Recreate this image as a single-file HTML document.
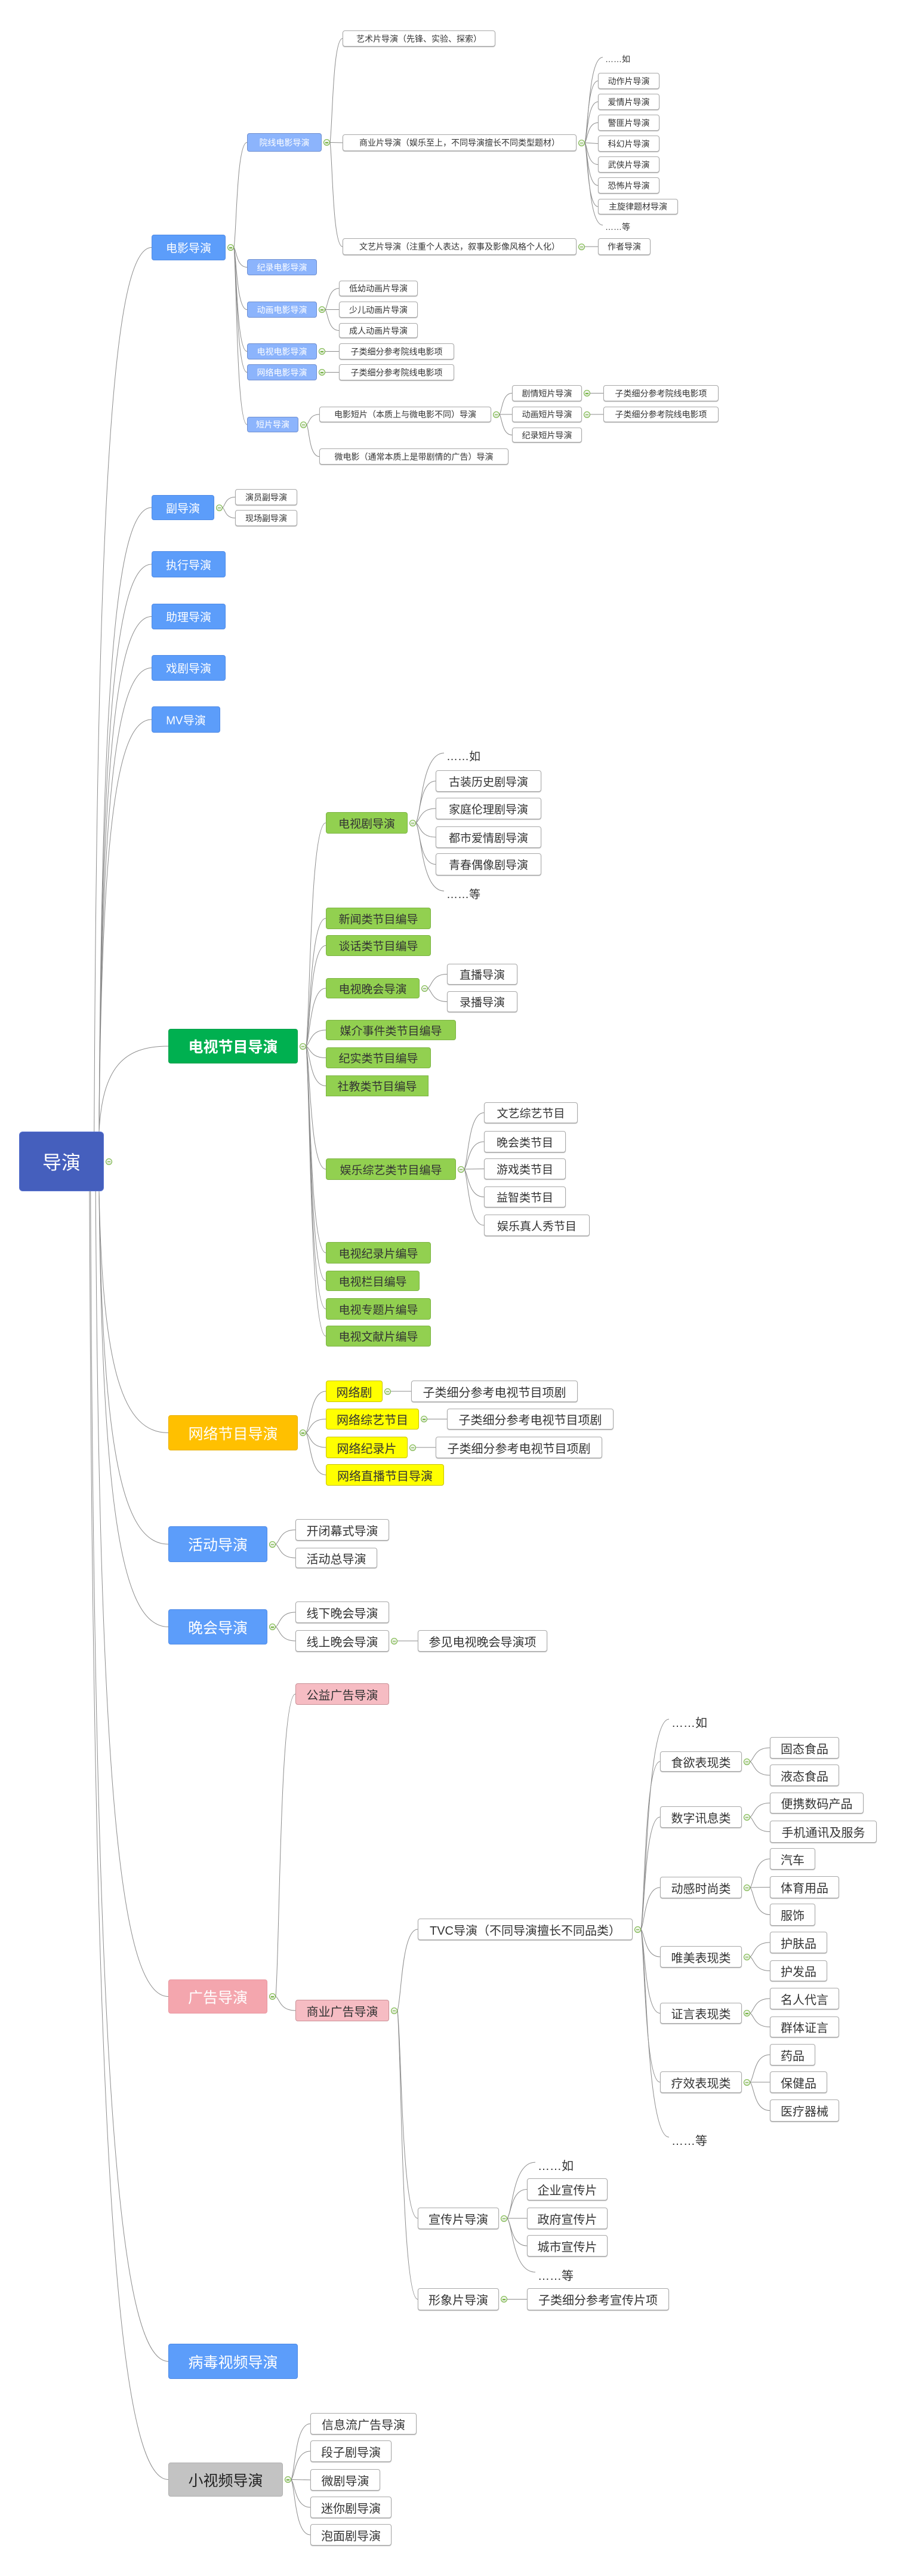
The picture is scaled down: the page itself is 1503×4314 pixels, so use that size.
<!DOCTYPE html>
<html><head><meta charset="utf-8">
<style>
html,body{margin:0;padding:0;background:#fff;}
body{width:1503px;height:4314px;position:relative;overflow:hidden;font-family:"Liberation Sans","Noto Sans CJK SC",sans-serif;}
#lines{position:absolute;left:0;top:0;}
.n{position:absolute;box-sizing:border-box;display:flex;align-items:center;justify-content:center;white-space:nowrap;border-radius:4px;color:#333;}
.w{background:#fff;border:1px solid #a8a8a8;box-shadow:0 1px 1px #bbb;}
.b1{background:#5c9dfa;border:1px solid #4e8ae6;color:#fff;}
.b2{background:#8cb4fc;border:1px solid #6f8fd0;color:#fff;}
.rt{background:#455fbd;border:1px solid #5872d0;color:#fff;border-radius:6px;font-size:32px;}
.gr{background:#00b050;border:1px solid #08a04a;color:#fff;font-weight:bold;}
.gl{background:#92d050;border:1px solid #7cb443;}
.yl{background:#ffff00;border:1px solid #c9c300;}
.or{background:#ffc000;border:1px solid #e8b000;color:#fff;}
.pk{background:#f4a6ae;border:1px solid #e8959e;color:#fff;}
.pl{background:#f6bcc3;border:1px solid #c99096;}
.gy{background:#c3c3c3;border:1px solid #b0b0b0;color:#222;}
.tx{justify-content:flex-start;}
.s14{font-size:14px}.s19{font-size:19px}.s20{font-size:20px}.s22{font-size:22px}.s25{font-size:25px}
.tg{position:absolute;width:11px;height:11px;border-radius:50%;border:1px solid #74b33f;background:linear-gradient(#f4f8f0,#d9e6d0);box-sizing:border-box;}
.tg:after{content:"";position:absolute;left:2px;top:4px;width:5px;height:1.5px;background:#74b33f;}
</style></head><body>
<svg id="lines" width="1503" height="4314"></svg>

<div class="n rt" id="r" style="left:32px;top:1895px;width:142px;height:100px">导演</div>

<div class="n b1 s19" id="a" style="left:254px;top:393px;width:124px;height:43px">电影导演</div>
<div class="n b1 s19" id="b" style="left:254px;top:829px;width:105px;height:42px">副导演</div>
<div class="n b1 s19" id="c" style="left:254px;top:923px;width:124px;height:44px">执行导演</div>
<div class="n b1 s19" id="d" style="left:254px;top:1011px;width:124px;height:43px">助理导演</div>
<div class="n b1 s19" id="e" style="left:254px;top:1097px;width:124px;height:43px">戏剧导演</div>
<div class="n b1 s19" id="f" style="left:254px;top:1183px;width:115px;height:44px">MV导演</div>
<div class="n gr s25" id="g" style="left:282px;top:1723px;width:217px;height:58px">电视节目导演</div>
<div class="n or s25" id="h" style="left:282px;top:2370px;width:217px;height:59px">网络节目导演</div>
<div class="n b1 s25" id="i" style="left:282px;top:2556px;width:166px;height:60px">活动导演</div>
<div class="n b1 s25" id="j" style="left:282px;top:2695px;width:166px;height:59px">晚会导演</div>
<div class="n pk s25" id="k" style="left:282px;top:3315px;width:166px;height:57px">广告导演</div>
<div class="n b1 s25" id="l" style="left:282px;top:3925px;width:217px;height:59px">病毒视频导演</div>
<div class="n gy s25" id="m" style="left:282px;top:4124px;width:192px;height:57px">小视频导演</div>

<!-- 电影 -->
<div class="n b2 s14" id="a1" style="left:414px;top:223px;width:125px;height:31px">院线电影导演</div>
<div class="n b2 s14" id="a2" style="left:414px;top:434px;width:117px;height:27px">纪录电影导演</div>
<div class="n b2 s14" id="a3" style="left:414px;top:505px;width:117px;height:27px">动画电影导演</div>
<div class="n b2 s14" id="a4" style="left:414px;top:575px;width:117px;height:27px">电视电影导演</div>
<div class="n b2 s14" id="a5" style="left:414px;top:610px;width:117px;height:27px">网络电影导演</div>
<div class="n b2 s14" id="a6" style="left:414px;top:698px;width:86px;height:26px">短片导演</div>

<div class="n w s14" id="a11" style="left:574px;top:51px;width:256px;height:27px">艺术片导演（先锋、实验、探索）</div>
<div class="n w s14" id="a12" style="left:574px;top:225px;width:392px;height:28px">商业片导演（娱乐至上，不同导演擅长不同类型题材）</div>
<div class="n w s14" id="a13" style="left:574px;top:399px;width:392px;height:28px">文艺片导演（注重个人表达，叙事及影像风格个人化）</div>
<div class="n tx s14" id="a120" style="left:1014px;top:89px;width:60px;height:20px">……如</div>
<div class="n w s14" id="a121" style="left:1002px;top:122px;width:103px;height:27px">动作片导演</div>
<div class="n w s14" id="a122" style="left:1002px;top:157px;width:103px;height:27px">爱情片导演</div>
<div class="n w s14" id="a123" style="left:1002px;top:192px;width:103px;height:27px">警匪片导演</div>
<div class="n w s14" id="a124" style="left:1002px;top:227px;width:103px;height:27px">科幻片导演</div>
<div class="n w s14" id="a125" style="left:1002px;top:262px;width:103px;height:27px">武侠片导演</div>
<div class="n w s14" id="a126" style="left:1002px;top:297px;width:103px;height:27px">恐怖片导演</div>
<div class="n w s14" id="a127" style="left:1002px;top:333px;width:134px;height:26px">主旋律题材导演</div>
<div class="n tx s14" id="a128" style="left:1014px;top:370px;width:60px;height:20px">……等</div>
<div class="n w s14" id="a131" style="left:1002px;top:399px;width:88px;height:28px">作者导演</div>

<div class="n w s14" id="a31" style="left:568px;top:470px;width:132px;height:26px">低幼动画片导演</div>
<div class="n w s14" id="a32" style="left:568px;top:505px;width:132px;height:27px">少儿动画片导演</div>
<div class="n w s14" id="a33" style="left:568px;top:541px;width:132px;height:25px">成人动画片导演</div>
<div class="n w s14" id="a41" style="left:568px;top:575px;width:193px;height:27px">子类细分参考院线电影项</div>
<div class="n w s14" id="a51" style="left:568px;top:610px;width:193px;height:27px">子类细分参考院线电影项</div>
<div class="n w s14" id="a61" style="left:535px;top:681px;width:288px;height:26px">电影短片（本质上与微电影不同）导演</div>
<div class="n w s14" id="a62" style="left:535px;top:751px;width:317px;height:27px">微电影（通常本质上是带剧情的广告）导演</div>
<div class="n w s14" id="a611" style="left:858px;top:645px;width:117px;height:27px">剧情短片导演</div>
<div class="n w s14" id="a612" style="left:858px;top:681px;width:117px;height:26px">动画短片导演</div>
<div class="n w s14" id="a613" style="left:858px;top:716px;width:117px;height:25px">纪录短片导演</div>
<div class="n w s14" id="a6111" style="left:1011px;top:645px;width:193px;height:27px">子类细分参考院线电影项</div>
<div class="n w s14" id="a6121" style="left:1011px;top:681px;width:193px;height:26px">子类细分参考院线电影项</div>

<div class="n w s14" id="b1" style="left:394px;top:819px;width:104px;height:27px">演员副导演</div>
<div class="n w s14" id="b2" style="left:394px;top:854px;width:104px;height:27px">现场副导演</div>

<!-- 电视 -->
<div class="n gl s19" id="g1" style="left:546px;top:1360px;width:137px;height:36px">电视剧导演</div>
<div class="n tx s19" id="g10" style="left:748px;top:1252px;width:80px;height:26px">……如</div>
<div class="n w s19" id="g11" style="left:730px;top:1290px;width:177px;height:36px">古装历史剧导演</div>
<div class="n w s19" id="g12" style="left:730px;top:1336px;width:177px;height:36px">家庭伦理剧导演</div>
<div class="n w s19" id="g13" style="left:730px;top:1384px;width:177px;height:36px">都市爱情剧导演</div>
<div class="n w s19" id="g14" style="left:730px;top:1429px;width:177px;height:37px">青春偶像剧导演</div>
<div class="n tx s19" id="g15" style="left:748px;top:1483px;width:80px;height:26px">……等</div>
<div class="n gl s19" id="g2" style="left:546px;top:1520px;width:176px;height:36px">新闻类节目编导</div>
<div class="n gl s19" id="g3" style="left:546px;top:1566px;width:176px;height:35px">谈话类节目编导</div>
<div class="n gl s19" id="g4" style="left:546px;top:1638px;width:157px;height:34px">电视晚会导演</div>
<div class="n w s19" id="g41" style="left:749px;top:1614px;width:118px;height:35px">直播导演</div>
<div class="n w s19" id="g42" style="left:749px;top:1660px;width:118px;height:35px">录播导演</div>
<div class="n gl s19" id="g5" style="left:546px;top:1708px;width:218px;height:34px">媒介事件类节目编导</div>
<div class="n gl s19" id="g6" style="left:546px;top:1754px;width:176px;height:35px">纪实类节目编导</div>
<div class="n gl s19" id="g7" style="left:546px;top:1801px;width:172px;height:35px;border-radius:0">社教类节目编导</div>
<div class="n gl s19" id="g8" style="left:546px;top:1940px;width:218px;height:36px">娱乐综艺类节目编导</div>
<div class="n w s19" id="g81" style="left:811px;top:1846px;width:157px;height:35px">文艺综艺节目</div>
<div class="n w s19" id="g82" style="left:811px;top:1894px;width:137px;height:36px">晚会类节目</div>
<div class="n w s19" id="g83" style="left:811px;top:1940px;width:137px;height:35px">游戏类节目</div>
<div class="n w s19" id="g84" style="left:811px;top:1987px;width:137px;height:35px">益智类节目</div>
<div class="n w s19" id="g85" style="left:811px;top:2034px;width:177px;height:36px">娱乐真人秀节目</div>
<div class="n gl s19" id="g9" style="left:546px;top:2080px;width:176px;height:36px">电视纪录片编导</div>
<div class="n gl s19" id="g91" style="left:546px;top:2128px;width:157px;height:34px">电视栏目编导</div>
<div class="n gl s19" id="g92" style="left:546px;top:2174px;width:176px;height:36px">电视专题片编导</div>
<div class="n gl s19" id="g93" style="left:546px;top:2220px;width:176px;height:35px">电视文献片编导</div>

<!-- 网络 -->
<div class="n yl s20" id="h1" style="left:546px;top:2312px;width:95px;height:36px">网络剧</div>
<div class="n w s20" id="h11" style="left:689px;top:2312px;width:279px;height:36px">子类细分参考电视节目项剧</div>
<div class="n yl s20" id="h2" style="left:546px;top:2359px;width:156px;height:35px">网络综艺节目</div>
<div class="n w s20" id="h21" style="left:749px;top:2359px;width:279px;height:35px">子类细分参考电视节目项剧</div>
<div class="n yl s20" id="h3" style="left:546px;top:2406px;width:137px;height:36px">网络纪录片</div>
<div class="n w s20" id="h31" style="left:730px;top:2406px;width:279px;height:36px">子类细分参考电视节目项剧</div>
<div class="n yl s20" id="h4" style="left:546px;top:2452px;width:198px;height:36px">网络直播节目导演</div>

<div class="n w s20" id="i1" style="left:495px;top:2544px;width:157px;height:36px">开闭幕式导演</div>
<div class="n w s20" id="i2" style="left:495px;top:2592px;width:137px;height:34px">活动总导演</div>
<div class="n w s20" id="j1" style="left:495px;top:2682px;width:157px;height:36px">线下晚会导演</div>
<div class="n w s20" id="j2" style="left:495px;top:2730px;width:157px;height:36px">线上晚会导演</div>
<div class="n w s20" id="j21" style="left:700px;top:2730px;width:217px;height:36px">参见电视晚会导演项</div>

<!-- 广告 -->
<div class="n pl s20" id="k1" style="left:495px;top:2819px;width:157px;height:36px">公益广告导演</div>
<div class="n pl s20" id="k2" style="left:495px;top:3349px;width:157px;height:36px">商业广告导演</div>
<div class="n w s20" id="k21" style="left:700px;top:3213px;width:360px;height:36px">TVC导演（不同导演擅长不同品类）</div>
<div class="n w s20" id="k22" style="left:700px;top:3697px;width:136px;height:36px">宣传片导演</div>
<div class="n w s20" id="k23" style="left:700px;top:3832px;width:136px;height:37px">形象片导演</div>
<div class="n tx s20" id="t0" style="left:1125px;top:2870px;width:80px;height:26px">……如</div>
<div class="n w s20" id="t1" style="left:1106px;top:2933px;width:137px;height:34px">食欲表现类</div>
<div class="n w s20" id="t2" style="left:1106px;top:3025px;width:137px;height:36px">数字讯息类</div>
<div class="n w s20" id="t3" style="left:1106px;top:3143px;width:137px;height:36px">动感时尚类</div>
<div class="n w s20" id="t4" style="left:1106px;top:3259px;width:137px;height:36px">唯美表现类</div>
<div class="n w s20" id="t5" style="left:1106px;top:3354px;width:137px;height:35px">证言表现类</div>
<div class="n w s20" id="t6" style="left:1106px;top:3469px;width:137px;height:36px">疗效表现类</div>
<div class="n tx s20" id="t7" style="left:1125px;top:3570px;width:80px;height:26px">……等</div>
<div class="n w s20" id="t11" style="left:1290px;top:2909px;width:116px;height:36px">固态食品</div>
<div class="n w s20" id="t12" style="left:1290px;top:2955px;width:116px;height:36px">液态食品</div>
<div class="n w s20" id="t21" style="left:1290px;top:3002px;width:157px;height:35px">便携数码产品</div>
<div class="n w s20" id="t22" style="left:1290px;top:3049px;width:179px;height:37px">手机通讯及服务</div>
<div class="n w s20" id="t31" style="left:1290px;top:3095px;width:76px;height:36px">汽车</div>
<div class="n w s20" id="t32" style="left:1290px;top:3142px;width:116px;height:37px">体育用品</div>
<div class="n w s20" id="t33" style="left:1290px;top:3188px;width:76px;height:37px">服饰</div>
<div class="n w s20" id="t41" style="left:1290px;top:3235px;width:96px;height:36px">护肤品</div>
<div class="n w s20" id="t42" style="left:1290px;top:3283px;width:96px;height:35px">护发品</div>
<div class="n w s20" id="t51" style="left:1290px;top:3329px;width:116px;height:36px">名人代言</div>
<div class="n w s20" id="t52" style="left:1290px;top:3377px;width:116px;height:35px">群体证言</div>
<div class="n w s20" id="t61" style="left:1290px;top:3423px;width:76px;height:36px">药品</div>
<div class="n w s20" id="t62" style="left:1290px;top:3469px;width:96px;height:36px">保健品</div>
<div class="n w s20" id="t63" style="left:1290px;top:3516px;width:116px;height:37px">医疗器械</div>
<div class="n tx s20" id="p0" style="left:901px;top:3612px;width:80px;height:26px">……如</div>
<div class="n w s20" id="p1" style="left:883px;top:3648px;width:135px;height:37px">企业宣传片</div>
<div class="n w s20" id="p2" style="left:883px;top:3697px;width:135px;height:36px">政府宣传片</div>
<div class="n w s20" id="p3" style="left:883px;top:3743px;width:135px;height:36px">城市宣传片</div>
<div class="n tx s20" id="p4" style="left:901px;top:3796px;width:80px;height:26px">……等</div>
<div class="n w s20" id="q1" style="left:883px;top:3832px;width:238px;height:37px">子类细分参考宣传片项</div>

<!-- 小视频 -->
<div class="n w s20" id="m1" style="left:520px;top:4041px;width:178px;height:36px">信息流广告导演</div>
<div class="n w s20" id="m2" style="left:520px;top:4087px;width:136px;height:36px">段子剧导演</div>
<div class="n w s20" id="m3" style="left:520px;top:4135px;width:117px;height:36px">微剧导演</div>
<div class="n w s20" id="m4" style="left:520px;top:4181px;width:136px;height:36px">迷你剧导演</div>
<div class="n w s20" id="m5" style="left:520px;top:4227px;width:136px;height:36px">泡面剧导演</div>

<script>
var T={
r:"a b c d e f g h i j k l m",
a:"a1 a2 a3 a4 a5 a6",a1:"a11 a12 a13",a12:"a120 a121 a122 a123 a124 a125 a126 a127 a128",a13:"a131",
a3:"a31 a32 a33",a4:"a41",a5:"a51",a6:"a61 a62",a61:"a611 a612 a613",a611:"a6111",a612:"a6121",
b:"b1 b2",
g:"g1 g2 g3 g4 g5 g6 g7 g8 g9 g91 g92 g93",g1:"g10 g11 g12 g13 g14 g15",g4:"g41 g42",g8:"g81 g82 g83 g84 g85",
h:"h1 h2 h3 h4",h1:"h11",h2:"h21",h3:"h31",
i:"i1 i2",j:"j1 j2",j2:"j21",
k:"k1 k2",k2:"k21 k22 k23",k21:"t0 t1 t2 t3 t4 t5 t6 t7",
t1:"t11 t12",t2:"t21 t22",t3:"t31 t32 t33",t4:"t41 t42",t5:"t51 t52",t6:"t61 t62 t63",
k22:"p0 p1 p2 p3 p4",k23:"q1",
m:"m1 m2 m3 m4 m5"};
var svg=document.getElementById('lines'),out="";
function R(id){var e=document.getElementById(id);return{l:e.offsetLeft,t:e.offsetTop,w:e.offsetWidth,h:e.offsetHeight,tx:e.classList.contains('tx')};}
for(var p in T){
  var P=R(p),kids=T[p].split(' ');
  var py=P.t+P.h/2,tx=P.l+P.w+3;
  var tg=document.createElement('div');tg.className='tg';tg.style.left=tx+'px';tg.style.top=(py-5.5)+'px';document.body.appendChild(tg);
  kids.forEach(function(c){
    var C=R(c),cx=C.l,cy=C.t+C.h/2;
    if(C.tx){cx=C.l-4;cy=C.t+C.h*0.35;}
    var sx,sy;
    if(p==='r'){
      var above=cy<P.t+P.h/2;
      var dist=Math.abs(cy-py);
      sx=P.l+100+Math.min(40,2000/ (dist/20+1)) ;
      sx=Math.min(P.l+P.w-8,Math.max(P.l+100,sx));
      sy=above?P.t:P.t+P.h;
      var dy=cy-sy,dx=cx-sx;
      out+='<path d="M'+sx+','+sy+' C'+(sx+dx*0.05)+','+(sy+dy*0.75)+' '+(sx+dx*0.35)+','+cy+' '+cx+','+cy+'"/>';
    }else{
      sx=tx+11;sy=py;
      var dx=cx-sx,dy=cy-sy;
      if(Math.abs(dy)<3){out+='<path d="M'+(tx+11)+','+sy+' L'+cx+','+cy+'"/>';}
      else out+='<path d="M'+sx+','+sy+' C'+(sx+dx*0.2)+','+(sy+dy*0.15)+' '+(sx+dx*0.2)+','+(cy)+' '+cx+','+cy+'"/>';
    }
  });
}
svg.innerHTML='<g fill="none" stroke="#8c8c8c" stroke-width="1">'+out+'</g>';
</script>
</body></html>
